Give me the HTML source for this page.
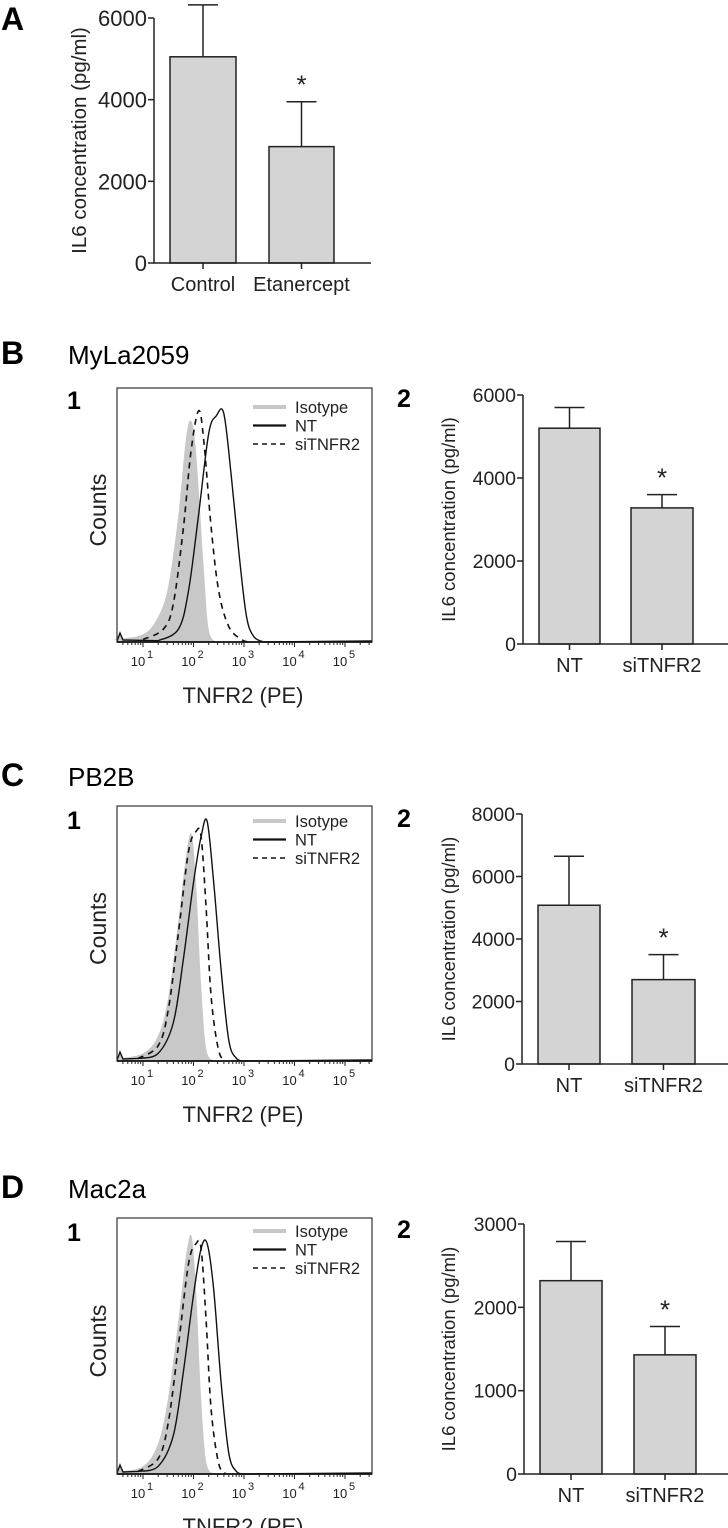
<!DOCTYPE html>
<html><head><meta charset="utf-8"><style>
html,body{margin:0;padding:0;background:#fff;}
svg{display:block;font-family:"Liberation Sans",Arial,sans-serif;}
</style></head><body>
<svg id="fig" width="728" height="1528" viewBox="0 0 728 1528" xmlns="http://www.w3.org/2000/svg">
<text x="1" y="30" font-size="32" font-weight="bold">A</text>
<text x="1" y="364" font-size="32" font-weight="bold">B</text>
<text x="68" y="364" font-size="26">MyLa2059</text>
<text x="67" y="409" font-size="25" font-weight="bold">1</text>
<text x="397" y="407" font-size="25" font-weight="bold">2</text>
<text x="1" y="786" font-size="32" font-weight="bold">C</text>
<text x="68" y="786" font-size="26">PB2B</text>
<text x="67" y="829" font-size="25" font-weight="bold">1</text>
<text x="397" y="827" font-size="25" font-weight="bold">2</text>
<text x="1" y="1198" font-size="32" font-weight="bold">D</text>
<text x="68" y="1198" font-size="26">Mac2a</text>
<text x="67" y="1241" font-size="25" font-weight="bold">1</text>
<text x="397" y="1238" font-size="25" font-weight="bold">2</text>
</svg>
<script>
// ---- Bar chart data ----
const aCats = ["Control", "Etanercept"];
const aMeans = [5050, 2850];
const aErrs = [1270, 1100];
const aTicks = [0, 2000, 4000, 6000];

const b2Cats = ["NT", "siTNFR2"];
const b2Means = [5200, 3280];
const b2Errs = [500, 320];
const b2Ticks = [0, 2000, 4000, 6000];

const c2Cats = ["NT", "siTNFR2"];
const c2Means = [5080, 2700];
const c2Errs = [1570, 800];
const c2Ticks = [0, 2000, 4000, 6000, 8000];

const d2Cats = ["NT", "siTNFR2"];
const d2Means = [2320, 1430];
const d2Errs = [470, 340];
const d2Ticks = [0, 1000, 2000, 3000];

// ---- Histogram data: [log10 intensity, relative count] ----
const bIso = [[0.4,0.01],[1,0.03],[1.3,0.1],[1.5,0.22],[1.7,0.5],[1.85,0.8],[1.95,0.87],[2.05,0.75],[2.2,0.3],[2.3,0.05],[2.45,0]];
const bNT = [[1.3,0.005],[1.7,0.05],[1.9,0.2],[2.1,0.5],[2.3,0.82],[2.45,0.89],[2.6,0.9],[2.75,0.65],[2.9,0.35],[3.05,0.1],[3.2,0.02],[3.4,0]];
const bSi = [[1.0,0.01],[1.4,0.05],[1.6,0.15],[1.8,0.45],[1.95,0.75],[2.1,0.91],[2.2,0.8],[2.35,0.45],[2.5,0.2],[2.7,0.06],[2.95,0.01],[3.1,0]];
const cIso = [[0.5,0.01],[1,0.03],[1.3,0.1],[1.5,0.25],[1.7,0.55],[1.85,0.8],[1.96,0.89],[2.05,0.7],[2.15,0.3],[2.25,0.05],[2.4,0]];
const cNT = [[0.9,0.01],[1.3,0.03],[1.6,0.15],[1.8,0.4],[2.0,0.7],[2.15,0.88],[2.27,0.94],[2.4,0.7],[2.55,0.35],[2.7,0.08],[2.85,0.01],[3,0]];
const cSi = [[0.9,0.01],[1.3,0.06],[1.5,0.2],[1.7,0.5],[1.9,0.82],[2.05,0.9],[2.15,0.88],[2.25,0.6],[2.35,0.25],[2.5,0.04],[2.65,0]];
const dIso = [[0.5,0.01],[1,0.03],[1.3,0.12],[1.5,0.3],[1.7,0.6],[1.85,0.85],[1.96,0.93],[2.05,0.72],[2.15,0.3],[2.25,0.05],[2.4,0]];
const dNT = [[0.9,0.01],[1.3,0.03],[1.6,0.15],[1.8,0.4],[2.0,0.7],[2.15,0.88],[2.27,0.9],[2.4,0.72],[2.55,0.35],[2.7,0.08],[2.85,0.01],[3,0]];
const dSi = [[0.9,0.01],[1.3,0.06],[1.5,0.2],[1.7,0.5],[1.9,0.82],[2.05,0.9],[2.15,0.88],[2.25,0.6],[2.35,0.25],[2.5,0.04],[2.65,0]];
const decadeLabels = ["1","2","3","4","5"];

const NS = "http://www.w3.org/2000/svg";
const fig = document.getElementById("fig");
function mk(tag, attrs, parent) {
  const e = document.createElementNS(NS, tag);
  for (const k in attrs) e.setAttribute(k, attrs[k]);
  (parent || fig).appendChild(e);
  return e;
}

function barChart(prefix, cats, means, errs, ticks, g) {
  const maxV = ticks[ticks.length - 1];
  const ys = v => g.y0 - (v / maxV) * (g.y0 - g.yTop);
  const grp = mk("g", {});
  
  
  cats.forEach((c, i) => {
    const [x0, x1] = g.bars[i];
    const cx = (x0 + x1) / 2;
    const r = mk("rect", {x: x0, y: ys(means[i]), width: x1 - x0, height: g.y0 - ys(means[i]), fill: "#d4d4d4", stroke: "#222", "stroke-width": 1.5}, grp);
    
    
    const e = mk("path", {d: `M${cx},${ys(means[i])}V${ys(means[i] + errs[i])}M${cx - 15},${ys(means[i] + errs[i])}H${cx + 15}`, stroke: "#222", "stroke-width": 1.5, fill: "none"}, grp);
    
    
    mk("line", {x1: cx, x2: cx, y1: g.y0, y2: g.y0 + 6, stroke: "#222", "stroke-width": 1.5}, grp);
    const t = mk("text", {x: cx, y: g.y0 + 28, "font-size": 20, "text-anchor": "middle", fill: "#222"}, grp);
    t.textContent = c;
    
    
    if (i === 1) {
      const s = mk("text", {x: cx, y: ys(means[i] + errs[i]) - 8, "font-size": 26, "text-anchor": "middle", fill: "#222"}, grp);
      s.textContent = "*";
      
      
    }
  });
  const ax = mk("path", {d: `M${g.ax},${g.yTop}V${g.y0}H${g.xEnd}`, stroke: "#222", "stroke-width": 1.5, fill: "none"}, grp);
  
  
  ticks.forEach(v => {
    mk("line", {x1: g.ax - 6, x2: g.ax, y1: ys(v), y2: ys(v), stroke: "#222", "stroke-width": 1.5}, grp);
    const t = mk("text", {x: g.ax - 7, y: ys(v) + g.tfs * 0.36, "font-size": g.tfs, "text-anchor": "end", fill: "#222"}, grp);
    t.textContent = v;
    
    
  });
  const tc = (g.y0 + g.yTop) / 2;
  const yt = mk("text", {x: g.titleX, y: tc, "font-size": g.fs, "text-anchor": "middle", fill: "#222", transform: `rotate(-90 ${g.titleX} ${tc})`}, grp);
  yt.textContent = "IL6 concentration (pg/ml)";
  
  
}

function smoothPath(pts) {
  let d = `M${pts[0][0]},${pts[0][1]}`;
  for (let i = 0; i < pts.length - 1; i++) {
    const p0 = pts[Math.max(0, i - 1)], p1 = pts[i], p2 = pts[i + 1], p3 = pts[Math.min(pts.length - 1, i + 2)];
    const c1x = p1[0] + (p2[0] - p0[0]) / 6, c1y = p1[1] + (p2[1] - p0[1]) / 6;
    const c2x = p2[0] - (p3[0] - p1[0]) / 6, c2y = p2[1] - (p3[1] - p1[1]) / 6;
    d += `C${c1x},${c1y} ${c2x},${c2y} ${p2[0]},${p2[1]}`;
  }
  return d;
}

function histogram(prefix, iso, nt, si, top, bottom, legendY, titleY) {
  const L = 117, R = 372;
  const xs = lg => 143 + (lg - 1) * 50.5;
  const yv = v => bottom - v * (bottom - top);
  const grp = mk("g", {});
  
  
  const tr = arr => arr.map(p => [xs(p[0]), yv(p[1])]);
  const isoP = tr(iso);
  const f = mk("path", {d: `M${L},${bottom}L${L+3},${bottom-8}L${L+6},${bottom-2}L${isoP[0][0]},${isoP[0][1]}` + smoothPath(isoP).replace(/^M[^C]*/, "") + `L${R},${bottom}Z`, fill: "#c8c8c8", stroke: "none"}, grp);
  
  
  const n = mk("path", {d: `M${L},${bottom-1}L${L+3},${bottom-9}L${L+6},${bottom-2}L${xs(nt[0][0])},${yv(nt[0][1])}` + smoothPath(tr(nt)).replace(/^M[^C]*/, "") + `L${R},${bottom-1}`, fill: "none", stroke: "#111", "stroke-width": 1.4}, grp);
  
  
  const s = mk("path", {d: smoothPath(tr(si)), fill: "none", stroke: "#111", "stroke-width": 1.6, "stroke-dasharray": "6,5"}, grp);
  
  
  const box = mk("rect", {x: L, y: top, width: R - L, height: bottom - top, fill: "none", stroke: "#333", "stroke-width": 1.2}, grp);
  
  
  mk("line", {x1: L, x2: R, y1: bottom, y2: bottom, stroke: "#111", "stroke-width": 1.8}, grp);
  for (let dcd = 0; dcd <= 5; dcd++) {
    for (let m = 1; m <= 9; m++) {
      const lg = dcd + Math.log10(m);
      const x = xs(lg);
      if (x < L + 4 || x > R) continue;
      const len = m === 1 ? 5 : 3;
      mk("line", {x1: x, x2: x, y1: bottom, y2: bottom + len, stroke: "#222", "stroke-width": 1}, grp);
    }
  }
  decadeLabels.forEach((lab, i) => {
    const x = xs(i + 1);
    const t = mk("text", {x: x - 5, y: bottom + 24, "font-size": 13, "text-anchor": "middle", fill: "#222"}, grp);
    t.textContent = "10";
    
    
    const sp = mk("text", {x: x + 7, y: bottom + 16, "font-size": 11, "text-anchor": "middle", fill: "#222"}, grp);
    sp.textContent = lab;
  });
  const xt = mk("text", {x: 243, y: titleY, "font-size": 22, "text-anchor": "middle", fill: "#222"}, grp);
  xt.textContent = "TNFR2 (PE)";
  
  
  const cy = (top + bottom) / 2 - 5;
  const yt = mk("text", {x: 106, y: cy, "font-size": 23, "text-anchor": "middle", fill: "#222", transform: `rotate(-90 106 ${cy})`}, grp);
  yt.textContent = "Counts";
  
  
  const lg = mk("g", {}, grp);
  
  
  const entries = [["Isotype", "#c8c8c8", 4, ""], ["NT", "#111", 2.2, ""], ["siTNFR2", "#111", 1.5, "5,4"]];
  entries.forEach((en, i) => {
    const y = legendY + i * 18.5;
    mk("line", {x1: 253, x2: 286, y1: y, y2: y, stroke: en[1], "stroke-width": en[2], "stroke-dasharray": en[3] || "none"}, lg);
    const t = mk("text", {x: 295, y: y + 6, "font-size": 16.5, fill: "#222"}, lg);
    t.textContent = en[0];
    
    
  });
}

barChart("a", aCats, aMeans, aErrs, aTicks, {ax: 154, y0: 263, yTop: 18, xEnd: 371, bars: [[170, 236], [269, 334]], titleX: 86, fs: 20.5, tfs: 22});
barChart("b2", b2Cats, b2Means, b2Errs, b2Ticks, {ax: 523, y0: 644, yTop: 395, xEnd: 728, bars: [[539, 600], [631, 693]], titleX: 455, fs: 18.5, tfs: 19.5});
barChart("c2", c2Cats, c2Means, c2Errs, c2Ticks, {ax: 522, y0: 1064, yTop: 814, xEnd: 728, bars: [[538, 600], [632, 695]], titleX: 455, fs: 18.5, tfs: 19.5});
barChart("d2", d2Cats, d2Means, d2Errs, d2Ticks, {ax: 524, y0: 1474, yTop: 1224, xEnd: 728, bars: [[540, 602], [634, 696]], titleX: 455, fs: 18.5, tfs: 19.5});

histogram("b1", bIso, bNT, bSi, 388, 642, 407, 703);
histogram("c1", cIso, cNT, cSi, 806, 1061, 821, 1122);
histogram("d1", dIso, dNT, dSi, 1218, 1474, 1231, 1534);
</script>
</body></html>
